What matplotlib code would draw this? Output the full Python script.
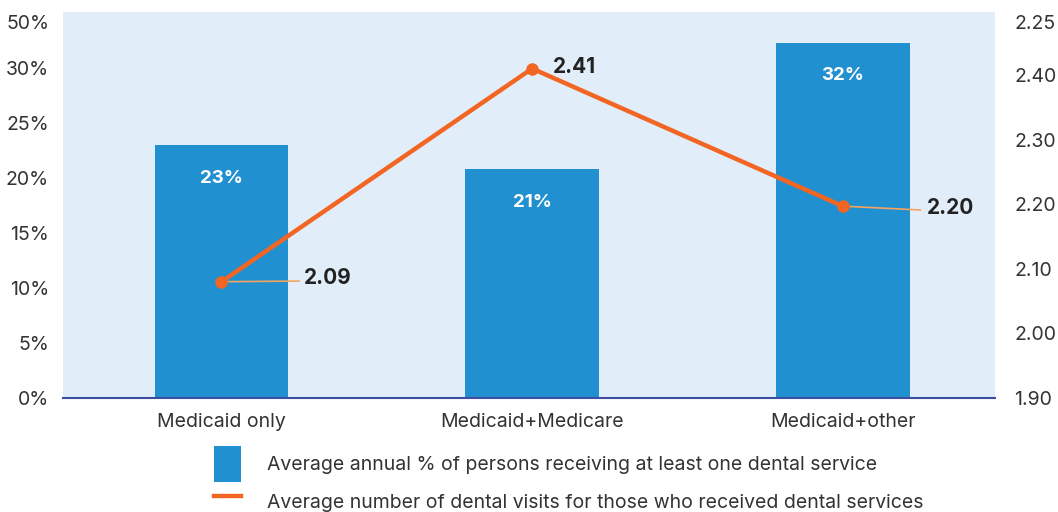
import matplotlib
matplotlib.use("Agg")
import matplotlib.pyplot as plt
from matplotlib.patches import Patch
from matplotlib.lines import Line2D

categories = ["Medicaid only", "Medicaid+Medicare", "Medicaid+other"]
pct_service = [23.0, 20.8, 32.3]
avg_visits = [2.08, 2.41, 2.197]
visit_labels = ["2.09", "2.41", "2.20"]
left_ticks = [0, 5, 10, 15, 20, 25, 30, 34.2]
left_ticklabels = ["0%", "5%", "10%", "15%", "20%", "25%", "30%", "50%"]
right_ticks = [1.90, 2.00, 2.10, 2.20, 2.30, 2.40, 2.482]
right_ticklabels = ["1.90", "2.00", "2.10", "2.20", "2.30", "2.40", "2.25"]
legend_labels = ["Average annual % of persons receiving at least one dental service",
                 "Average number of dental visits for those who received dental services"]

plt.rcParams['font.family'] = ['Inter', 'DejaVu Sans']

BLUE = "#2190D0"
ORANGE = "#F26522"
BG = "#E1EEF9"
TXT = "#333333"

fig = plt.figure(figsize=(10.58, 5.12), dpi=100)
ax = fig.add_axes([63/1058, 114/512, 932/1058, 386/512])
ax.set_facecolor(BG)
x = list(range(len(categories)))
ax.bar(x, pct_service, width=0.43, color=BLUE, zorder=2)
ax.set_xlim(-0.51, 2.49)
ax.set_ylim(0, 35.1)
ax.set_yticks(left_ticks)
ax.set_yticklabels(left_ticklabels)
ax.set_xticks(x)
ax.set_xticklabels(categories)
for s in ["top", "left", "right"]:
    ax.spines[s].set_visible(False)
ax.spines["bottom"].set_color("#3D4DA0")
ax.spines["bottom"].set_linewidth(1.5)
ax.tick_params(axis="both", length=0, labelsize=14, colors=TXT)
ax.tick_params(axis="y", pad=10)
ax.tick_params(axis="x", pad=11)
for xi, v in zip(x, pct_service):
    ax.text(xi, v - 3.0, f"{v:.0f}%", ha="center", va="center", color="white",
            fontsize=13.5, fontweight="bold", zorder=3)

ax2 = ax.twinx()
ax2.set_ylim(1.90, 2.4975)
ax2.set_yticks(right_ticks)
ax2.set_yticklabels(right_ticklabels)
for s in ["top", "left", "right", "bottom"]:
    ax2.spines[s].set_visible(False)
ax2.tick_params(axis="y", length=0, labelsize=14, colors=TXT, pad=14)
ax2.plot(x, avg_visits, color=ORANGE, lw=3.2, marker="o", ms=8, zorder=4)

# data labels
ax2.plot([0, 0.25], [avg_visits[0], avg_visits[0] + 0.001], color="#F4A460", lw=1.2, zorder=3)
ax2.text(0.265, avg_visits[0] + 0.005, visit_labels[0], ha="left", va="center",
         fontsize=15, fontweight="bold", color="#222222")
ax2.text(1.068, avg_visits[1] + 0.003, visit_labels[1], ha="left", va="center",
         fontsize=15, fontweight="bold", color="#222222")
ax2.plot([2, 2.25], [avg_visits[2], avg_visits[2] - 0.006], color="#F4A460", lw=1.2, zorder=3)
ax2.text(2.27, avg_visits[2] - 0.003, visit_labels[2], ha="left", va="center",
         fontsize=15, fontweight="bold", color="#222222")

handles = [Patch(facecolor=BLUE, edgecolor="none"),
           Line2D([0], [0], color=ORANGE, lw=3.2)]
leg = fig.legend(handles, legend_labels, loc="upper left", bbox_to_anchor=(210/1058, 1 - 442/512),
                 frameon=False, fontsize=14, handlelength=1.4, handleheight=2.47,
                 labelspacing=0.10, handletextpad=1.35, borderaxespad=0, borderpad=0.2)
for t in leg.get_texts():
    t.set_color(TXT)

fig.savefig("out.png", dpi=100)
